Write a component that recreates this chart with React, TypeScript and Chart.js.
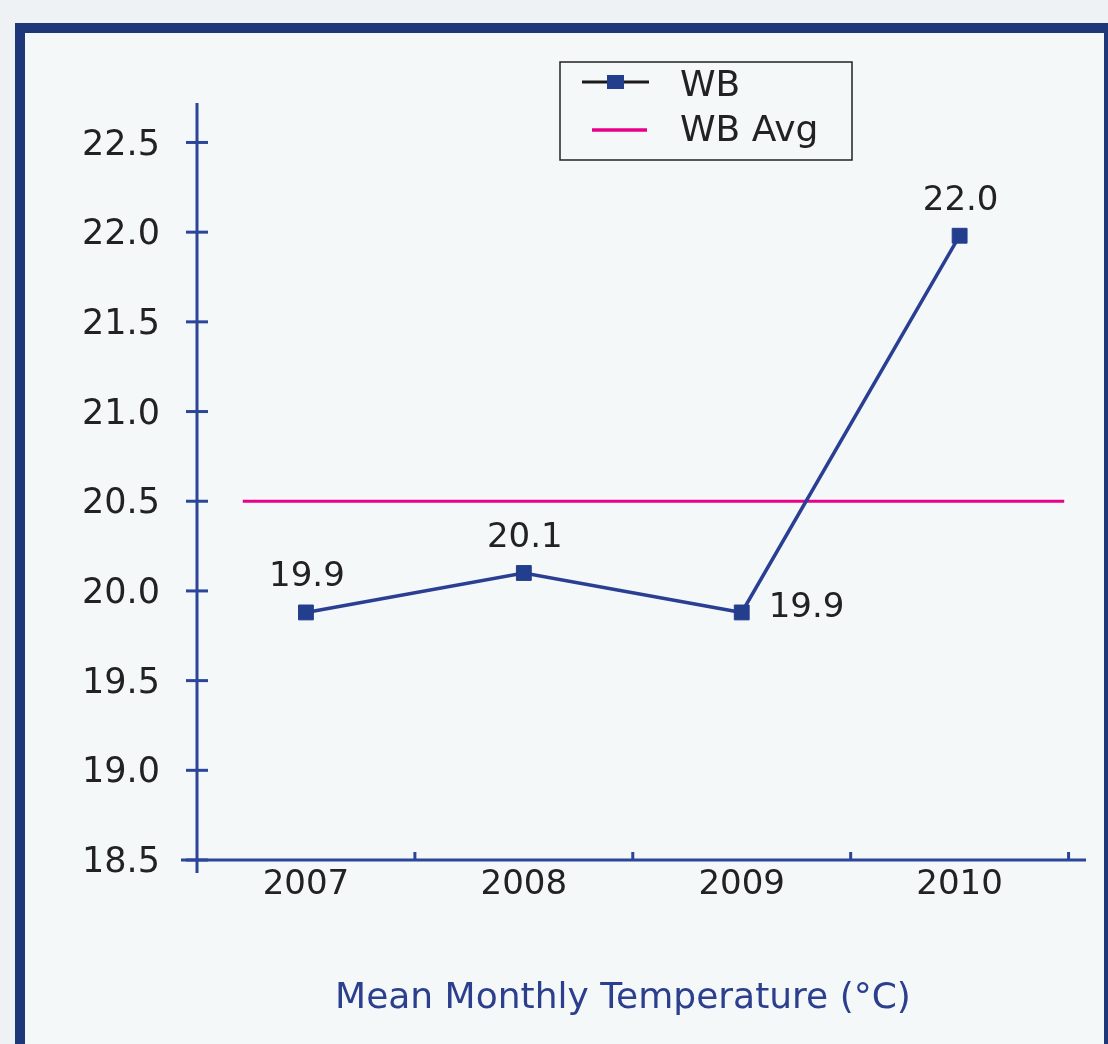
import React, { useEffect, useRef } from "react";
import { Chart, registerables } from "chart.js";

Chart.register(...registerables);

const years = [2007, 2008, 2009, 2010];
const wbValues = [19.88, 20.1, 19.88, 21.98];
const avgValue = 20.5;
const avgSpan = [2006.71, 2010.48];
const yTicks = [18.5, 19.0, 19.5, 20.0, 20.5, 21.0, 21.5, 22.0, 22.5];
const xTickMarks = [2007.5, 2008.5, 2009.5, 2010.5];
const labelPlacement = ["top", "top", "right", "top"];
const seriesNames = ["WB", "WB Avg"];
const axisTitle = "Mean Monthly Temperature (\u00B0C)";

const FONT = "'DejaVu Sans', Verdana, sans-serif";
const AXIS_BLUE = "#2b4599";
const LINE_BLUE = "#2a3f93";
const MARK_BLUE = "#243e8e";
const PINK = "#e8008a";
const TEXT = "#222222";

const decor = {
  id: "decor",
  beforeDatasetsDraw(chart: any) {
    const { ctx, chartArea, scales } = chart;
    const xs = scales.x;
    const ys = scales.y;
    ctx.save();
    ctx.strokeStyle = AXIS_BLUE;
    ctx.lineWidth = 3;
    const ax = xs.getPixelForValue(xs.min);
    ctx.beginPath();
    ctx.moveTo(ax, chartArea.top);
    ctx.lineTo(ax, chartArea.bottom + 13);
    ctx.stroke();
    ctx.font = `35px ${FONT}`;
    ctx.fillStyle = TEXT;
    ctx.textAlign = "right";
    ctx.textBaseline = "middle";
    yTicks.forEach((v) => {
      const y = ys.getPixelForValue(v);
      ctx.beginPath();
      ctx.moveTo(ax - 11, y);
      ctx.lineTo(ax + 11, y);
      ctx.stroke();
      ctx.fillText(v.toFixed(1), ax - 37, y + 3);
    });
    const by = ys.getPixelForValue(ys.min);
    ctx.beginPath();
    ctx.moveTo(ax - 16, by);
    ctx.lineTo(chartArea.right, by);
    ctx.stroke();
    xTickMarks.forEach((v) => {
      const x = xs.getPixelForValue(v);
      ctx.beginPath();
      ctx.moveTo(x, by);
      ctx.lineTo(x, by - 8);
      ctx.stroke();
    });
    ctx.textAlign = "center";
    ctx.font = `34px ${FONT}`;
    years.forEach((yr) => {
      ctx.fillText(String(yr), xs.getPixelForValue(yr), by + 25);
    });
    ctx.fillStyle = "#2b3f8e";
    ctx.font = `36px ${FONT}`;
    ctx.fillText(axisTitle, 623, 999);
    ctx.restore();
  },
  afterDatasetsDraw(chart: any) {
    const { ctx } = chart;
    const meta = chart.getDatasetMeta(1);
    ctx.save();
    ctx.fillStyle = TEXT;
    ctx.font = `34px ${FONT}`;
    ctx.textBaseline = "middle";
    meta.data.forEach((pt: any, i: number) => {
      const txt = wbValues[i].toFixed(1);
      if (labelPlacement[i] === "right") {
        ctx.textAlign = "left";
        ctx.fillText(txt, pt.x + 27, pt.y - 4);
      } else {
        ctx.textAlign = "center";
        ctx.fillText(txt, pt.x + 1, pt.y - 35);
      }
    });
    ctx.fillStyle = "#f4f8f9";
    ctx.fillRect(560, 62, 292, 98);
    ctx.strokeStyle = "#222222";
    ctx.lineWidth = 1.5;
    ctx.strokeRect(560, 62, 292, 98);
    ctx.strokeStyle = "#1a1a1a";
    ctx.lineWidth = 3;
    ctx.beginPath();
    ctx.moveTo(582, 82);
    ctx.lineTo(649, 82);
    ctx.stroke();
    ctx.fillStyle = MARK_BLUE;
    ctx.fillRect(607, 75, 17, 14);
    ctx.strokeStyle = PINK;
    ctx.lineWidth = 3.5;
    ctx.beginPath();
    ctx.moveTo(592, 130);
    ctx.lineTo(647, 130);
    ctx.stroke();
    ctx.fillStyle = TEXT;
    ctx.font = `36px ${FONT}`;
    ctx.textAlign = "left";
    ctx.fillText(seriesNames[0], 680, 87);
    ctx.fillText(seriesNames[1], 680, 132);
    ctx.restore();
  },
};

export default function App() {
  const ref = useRef<HTMLCanvasElement>(null);
  useEffect(() => {
    if (!ref.current) return;
    const chart = new Chart(ref.current, {
      type: "line",
      data: {
        datasets: [
          {
            label: seriesNames[1],
            data: avgSpan.map((x) => ({ x, y: avgValue })),
            borderColor: PINK,
            borderWidth: 3,
            pointRadius: 0,
            order: 2,
          },
          {
            label: seriesNames[0],
            data: years.map((x, i) => ({ x, y: wbValues[i] })),
            borderColor: LINE_BLUE,
            borderWidth: 3.5,
            pointStyle: "rect",
            pointRadius: 10.5,
            pointBackgroundColor: MARK_BLUE,
            pointBorderColor: MARK_BLUE,
            pointBorderWidth: 1,
            order: 1,
          },
        ] as any,
      },
      options: {
        animation: false,
        responsive: true,
        maintainAspectRatio: false,
        layout: { padding: { left: 197, right: 22, top: 103, bottom: 184 } },
        plugins: { legend: { display: false }, tooltip: { enabled: false } },
        scales: {
          x: { type: "linear", min: 2006.5, max: 2010.58, display: false },
          y: { type: "linear", min: 18.5, max: 22.72, display: false },
        },
      },
      plugins: [decor],
    });
    return () => chart.destroy();
  }, []);

  return (
    <div
      style={{
        position: "absolute",
        left: 0,
        top: 0,
        width: 1108,
        height: 1044,
        overflow: "hidden",
        background: "#eef2f4",
      }}
    >
      <div
        style={{
          position: "absolute",
          left: 15,
          top: 23,
          width: 1079,
          height: 1200,
          border: "10px solid #1e3778",
          background: "#f4f8f9",
        }}
      />
      <div style={{ position: "absolute", left: 0, top: 0, width: 1108, height: 1044 }}>
        <canvas ref={ref} />
      </div>
    </div>
  );
}
